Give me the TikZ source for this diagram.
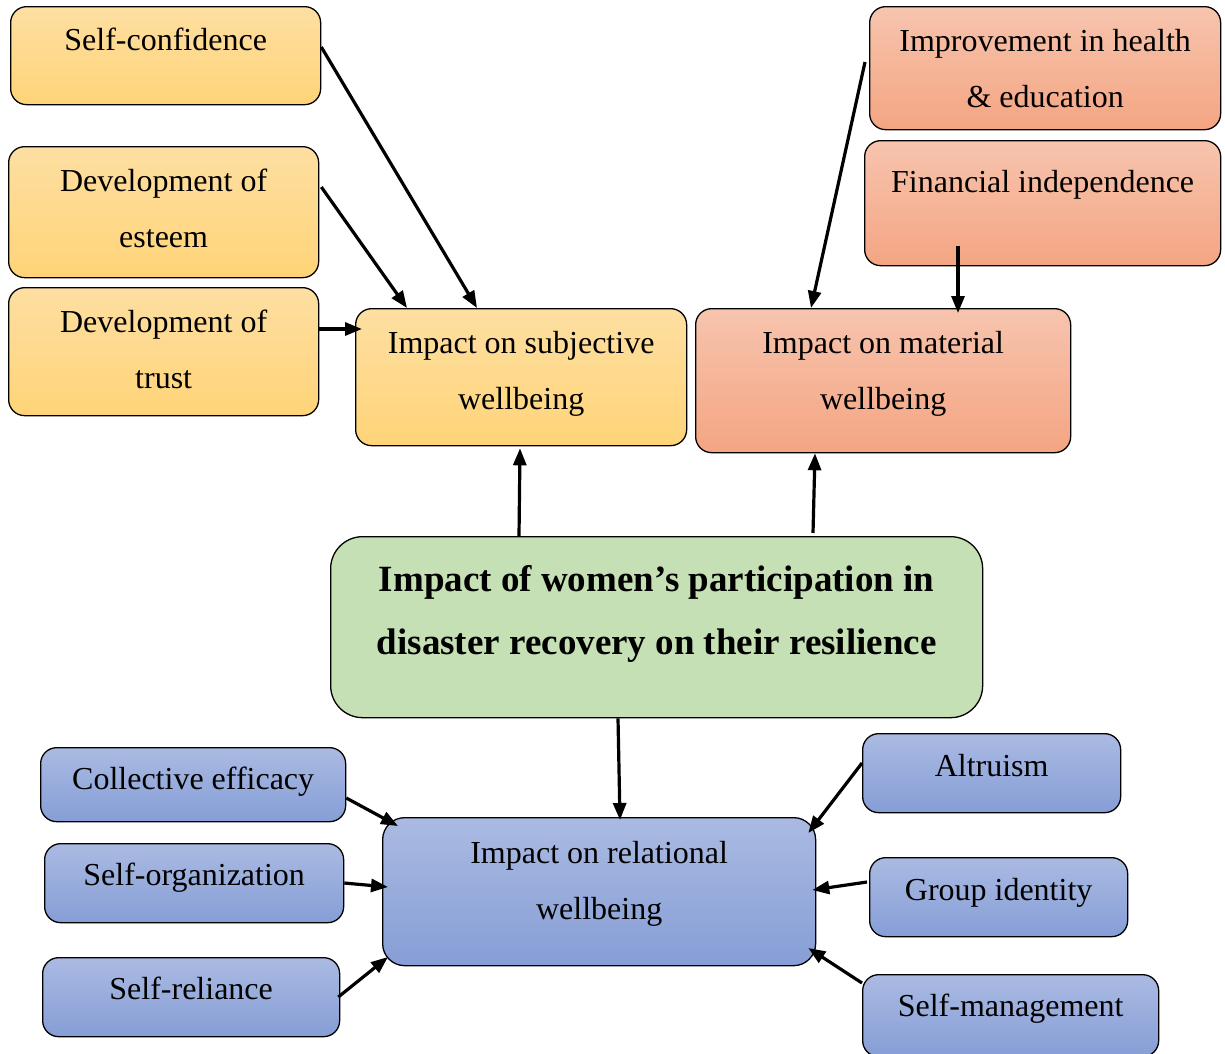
\documentclass[tikz,border=0pt]{standalone}
\usepackage{fontspec}
\setmainfont{Liberation Serif}
\usetikzlibrary{arrows.meta,calc}

\definecolor{goldtop}{RGB}{254,223,162}
\definecolor{goldbot}{RGB}{255,212,120}
\definecolor{salmontop}{RGB}{247,196,174}
\definecolor{salmonbot}{RGB}{244,165,130}
\definecolor{bluetop}{RGB}{170,186,226}
\definecolor{bluebot}{RGB}{134,158,214}
\definecolor{coregreen}{RGB}{197,224,180}

% #1 width, #2 height, #3 first baseline below top, #4 text
\newcommand\boxcontent[4]{\parbox[c][#2pt][t]{#1pt}{\centering\rule{0pt}{#3pt}#4}}

\tikzset{
  card/.style={draw=black, line width=1.3pt, rounded corners=16pt, inner sep=0pt,
    anchor=north west, font=\fontsize{32}{56}\selectfont},
  goldcard/.style={card, top color=goldtop, bottom color=goldbot},
  salmoncard/.style={card, top color=salmontop, bottom color=salmonbot},
  bluecard/.style={card, top color=bluetop, bottom color=bluebot},
  corecard/.style={card, fill=coregreen, rounded corners=32pt,
    font=\fontsize{37}{63}\selectfont\bfseries},
  link/.style={line width=3.2pt, -{Triangle[length=17pt,width=13pt]}}
}

\begin{document}
\begin{tikzpicture}[x=1pt,y=-1pt]
\useasboundingbox (0,0) rectangle (1225,1053);

% subjective wellbeing group
\node[goldcard] (sc)   at (10,6)   {\boxcontent{310}{98}{44}{Self-confidence}};
\node[goldcard] (est)  at (8,146)  {\boxcontent{310}{131}{45}{Development of\\esteem}};
\node[goldcard] (tru)  at (8,287)  {\boxcontent{310}{128}{45}{Development of\\trust}};
\node[goldcard] (subj) at (355,308){\boxcontent{331}{137}{45}{Impact on subjective\\wellbeing}};

% material wellbeing group
\node[salmoncard] (health) at (869,6)   {\boxcontent{351}{123}{45}{Improvement in health\\\& education}};
\node[salmoncard] (fin)    at (864,140) {\boxcontent{356}{125}{52}{Financial independence}};
\node[salmoncard] (mat)    at (695,308) {\boxcontent{375}{144}{45}{Impact on material\\wellbeing}};

% central theme
\node[corecard] (core) at (330,536) {\boxcontent{652}{181}{55}{Impact of women’s participation in\\disaster recovery on their resilience}};

% relational wellbeing group
\node[bluecard] (coll) at (40,747)  {\boxcontent{305}{74}{42}{Collective efficacy}};
\node[bluecard] (sorg) at (44,843)  {\boxcontent{299}{79}{42}{Self-organization}};
\node[bluecard] (srel) at (42,957)  {\boxcontent{297}{79}{42}{Self-reliance}};
\node[bluecard, rounded corners=22pt] (rel) at (382,817) {\boxcontent{433}{148}{46}{Impact on relational\\wellbeing}};
\node[bluecard] (alt)  at (862,733) {\boxcontent{258}{79}{43}{Altruism}};
\node[bluecard] (grp)  at (869,857) {\boxcontent{258}{79}{43}{Group identity}};
\node[bluecard] (smg)  at (862,974) {\boxcontent{296}{82}{42}{Self-management}};

% links into subjective wellbeing
\draw[link] ($(sc.north east)+(0,41)$)   -- ($(subj.north west)+(122,0)$);
\draw[link] ($(est.north east)+(2,41)$)  -- ($(subj.north west)+(52,0)$);
\draw[link] ($(tru.north east)+(0,42)$)  -- ($(subj.north west)+(7,21)$);

% links into material wellbeing
\draw[link] ($(health.north west)+(-4,56)$) -- ($(mat.north west)+(116,0)$);
\draw[link] ($(fin.south west)+(94,-20)$)   -- ($(mat.north west)+(263,5)$);

% links out of the central theme
\draw[link] ($(core.north west)+(189,0)$) -- ($(subj.south west)+(165,2)$);
\draw[link] ($(core.north west)+(483,-3)$) -- ($(mat.south west)+(120,0)$);
\draw[link] ($(core.south west)+(288,0)$) -- ($(rel.north west)+(238,3)$);

% links into relational wellbeing
\draw[link] ($(coll.north east)+(0,51)$) -- ($(rel.north west)+(16,9)$);
\draw[link] ($(sorg.north east)+(0,40)$) -- ($(rel.north west)+(6,70)$);
\draw[link] ($(srel.north east)+(-2,40)$) -- ($(rel.north west)+(6,140)$);
\draw[link] ($(alt.north west)+(0,30)$)  -- ($(rel.north east)+(-8,16)$);
\draw[link] ($(grp.north west)+(-2,25)$) -- ($(rel.north east)+(-4,73)$);
\draw[link] ($(smg.north west)+(0,9)$)   -- ($(rel.north east)+(-8,131)$);
\end{tikzpicture}
\end{document}
